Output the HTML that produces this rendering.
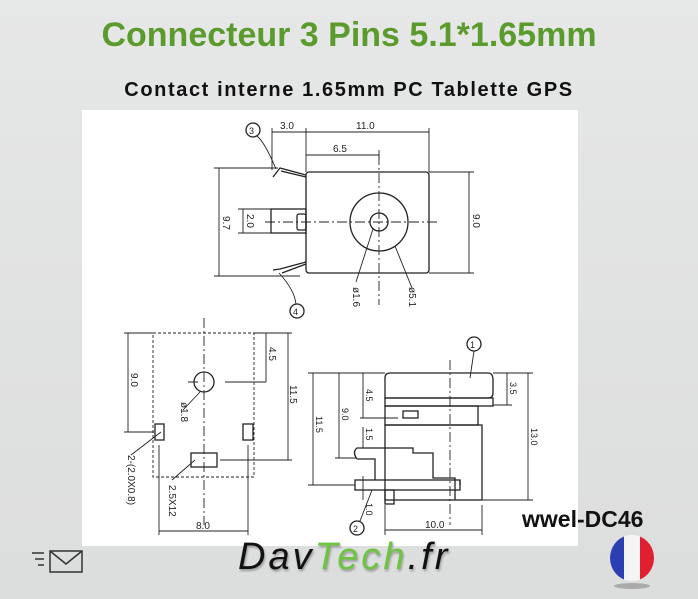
<!DOCTYPE html>
<html><head><meta charset="utf-8"><style>
html,body{margin:0;padding:0}
body{width:698px;height:599px;background:linear-gradient(#e6e7e7,#dcdddd);position:relative;overflow:hidden;font-family:"Liberation Sans",sans-serif}
.t1{position:absolute;top:16px;left:0;width:698px;text-align:center;font-size:34px;font-weight:bold;color:#5b9a2c}
.t2{position:absolute;top:79px;left:0;width:698px;text-align:center;font-size:20px;font-weight:bold;color:#111;letter-spacing:1.6px}
.panel{position:absolute;left:82px;top:110px;width:496px;height:436px;background:#fff}
.ref{position:absolute;left:522px;top:506px;font-size:23px;font-weight:bold;color:#111}
.logo{position:absolute;left:238px;top:536px;font-size:38px;font-style:italic;letter-spacing:3px;text-shadow:1px 2px 2px #999}
</style></head><body>
<div class="t1">Connecteur 3 Pins 5.1*1.65mm</div>
<div class="t2">Contact interne 1.65mm PC Tablette GPS</div>
<div class="panel"></div>
<svg width="698" height="599" style="position:absolute;left:0;top:0" font-family="Liberation Sans" font-size="10" fill="none" stroke="#222" stroke-width="1.3">
<!-- top view -->
<rect x="306" y="172" width="123" height="101" rx="3"/>
<circle cx="379" cy="222" r="29"/><circle cx="379" cy="222" r="9"/>
<rect x="271" y="209" width="35" height="24"/><rect x="297" y="214" width="9" height="16" rx="2"/>
<path d="M306 175 L280 168 L273 177 M306 177 L281 171 M306 262 L280 269 L273 270 M306 264 L282 273"/>
<path d="M265 222 H437 M379 155 V305" stroke-dasharray="10 3 2 3" stroke-width="0.9"/>
<path d="M272 132 H429 M272 128 V170 M306 128 V172 M429 128 V172 M306 155 H379 M379 150 V160 M219 168 V276 M214 168 H278 M214 276 H300 M469 172 V273 M429 172 H474 M429 273 H474 M243 209 V233 M238 209 H271 M238 233 H271" stroke-width="0.9"/>
<path d="M373 229 L356 282 M395 246 L412 288 M276 169 C268 150 262 140 257 136 M279 273 C290 285 295 295 296 304" stroke-width="0.9"/>
<circle cx="253" cy="130" r="7"/><circle cx="297" cy="311" r="7"/>
<g fill="#222" stroke="none" font-size="10">
<text x="280" y="129">3.0</text><text x="356" y="129">11.0</text><text x="333" y="152">6.5</text>
<text x="249" y="134" font-size="9">3</text><text x="293" y="315" font-size="9">4</text>
<text transform="translate(223,216) rotate(90)">9.7</text>
<text transform="translate(247,214) rotate(90)">2.0</text>
<text transform="translate(473,214) rotate(90)">9.0</text>
<text transform="translate(353,287) rotate(90)">ø1.6</text>
<text transform="translate(409,287) rotate(90)">ø5.1</text>
</g>
<!-- left view -->
<rect x="153" y="333" width="101" height="144" stroke-dasharray="3 2" stroke-width="0.9"/>
<circle cx="204" cy="382" r="10"/>
<rect x="155" y="424" width="9" height="16"/><rect x="243" y="424" width="10" height="16"/>
<rect x="191" y="453" width="26" height="14"/>
<path d="M204 318 V525" stroke-dasharray="10 3 2 3" stroke-width="0.9"/>
<path d="M188 382 H198 M225 382 H266 M128 333 V432 M124 333 H153 M124 432 H154 M266 333 V382 M254 333 H292 M288 333 V460 M220 460 H292 M159 445 V535 M248 445 V535 M159 531 H248 M161 432 L131 455 M195 460 L172 480 M200 392 L183 410" stroke-width="0.9"/>
<g fill="#222" stroke="none">
<text transform="translate(131,373) rotate(90)">9.0</text>
<text transform="translate(269,347) rotate(90)">4.5</text>
<text transform="translate(290,385) rotate(90)">11.5</text>
<text transform="translate(181,402) rotate(90)">ø1.8</text>
<text transform="translate(128,455) rotate(90)">2-(2.0X0.8)</text>
<text transform="translate(169,485) rotate(90)">2.5X12</text>
<text x="196" y="529">8.0</text>
</g>
<!-- side view -->
<path d="M385 398 V378 Q385 373 390 373 H488 Q493 373 493 380 V393 Q493 398 488 398 Z"/>
<rect x="385" y="398" width="108" height="8"/>
<rect x="385" y="406" width="93" height="19"/>
<rect x="385" y="425" width="97" height="75"/>
<rect x="403" y="411" width="15" height="7"/>
<path d="M357 459 Q352 452 357 448 H413 V453 H433 V478 H455 V500 M357 459 H375 V480"/>
<rect x="355" y="480" width="105" height="10"/>
<rect x="385" y="490" width="9" height="14"/>
<path d="M460 480 V485"/>
<path d="M450 360 V525" stroke-dasharray="10 3 2 3" stroke-width="0.9"/>
<path d="M313 373 V485 M308 373 H385 M308 485 H355 M339 373 V458 M335 458 H357 M363 373 V418 M363 427 V448 M360 418 H398 M363 476 V500 M507 373 V405 M493 405 H512 M528 373 V500 M482 500 H533 M493 373 H533 M385 505 V535 M482 505 V535 M385 530 H482 M372 490 L360 521 M470 378 L474 351" stroke-width="0.9"/>
<circle cx="474" cy="344" r="7"/><circle cx="357" cy="528" r="7"/>
<g fill="#222" stroke="none" font-size="9">
<text x="470" y="348">1</text><text x="353" y="532">2</text>
<text transform="translate(316,416) rotate(90)">11.5</text>
<text transform="translate(342,408) rotate(90)">9.0</text>
<text transform="translate(366,389) rotate(90)">4.5</text>
<text transform="translate(366,428) rotate(90)">1.5</text>
<text transform="translate(366,503) rotate(90)">1.0</text>
<text transform="translate(510,382) rotate(90)">3.5</text>
<text transform="translate(531,428) rotate(90)">13.0</text>
<text x="425" y="528" font-size="10">10.0</text>
</g>
<!-- mail icon -->
<path d="M32 553 H44 M35 559 H44 M38 565 H44" stroke="#333" stroke-width="1.5"/>
<rect x="50" y="551" width="32" height="21" stroke="#333" stroke-width="1.5"/>
<path d="M50 551 L66 564 L82 551" stroke="#333" stroke-width="1.5"/>
<!-- flag -->
<defs><clipPath id="c"><ellipse cx="632" cy="558" rx="22" ry="23"/></clipPath></defs>
<g clip-path="url(#c)" stroke="none"><rect x="608" y="534" width="16" height="48" fill="#2b3fb3"/><rect x="624" y="534" width="16" height="48" fill="#f4f4f4"/><rect x="640" y="534" width="16" height="48" fill="#e02030"/></g>
<ellipse cx="632" cy="586" rx="18" ry="3" fill="#aaa" stroke="none"/>
</svg>
<div class="ref">wwel-DC46</div>
<div class="logo"><span style="color:#111">Dav</span><span style="color:#6cc440">Tech</span><span style="color:#111">.fr</span></div>
</body></html>
